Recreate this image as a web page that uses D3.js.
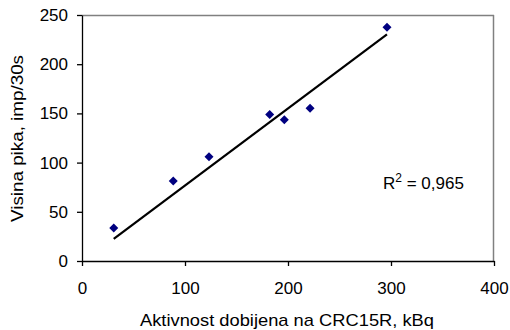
<!DOCTYPE html>
<html>
<head>
<meta charset="utf-8">
<script src="https://cdn.jsdelivr.net/npm/d3@7"></script>
<style>
  body { margin: 0; background: #fff; }
  text { font-family: "Liberation Sans", Arial, sans-serif; fill: #000; }
</style>
</head>
<body>
<svg id="chart" width="510" height="330"></svg>
<script>
// measured points (activity kBq, peak height imp/30s)
var activity = [30.8, 88.6, 123.3, 182.2, 196.4, 221.4, 296.1];
var peakHeight = [33.5, 81.3, 106, 149, 143.6, 155.2, 237.5];
// trend line ends as drawn
var trendX = [30.8, 296.1];
var trendY = [22.4, 230.2];
var xTicks = [0, 100, 200, 300, 400];
var yTicks = [0, 50, 100, 150, 200, 250];
var rSquared = "0,965";

var margin = {top: 15, right: 16, bottom: 69, left: 82};
var width = 510 - margin.left - margin.right;
var height = 330 - margin.top - margin.bottom;

var svg = d3.select("#chart");
var g = svg.append("g")
  .attr("transform", "translate(" + margin.left + "," + margin.top + ")");

var x = d3.scaleLinear().domain([0, 400]).range([0, width]);
var y = d3.scaleLinear().domain([0, 250]).range([height, 0]);

// gray frame top/right
g.append("line").attr("x1", 0).attr("x2", width).attr("y1", 0.5).attr("y2", 0.5)
  .attr("stroke", "#808080").attr("stroke-width", 1.5);
g.append("line").attr("x1", width - 0.5).attr("x2", width - 0.5).attr("y1", 0).attr("y2", height)
  .attr("stroke", "#808080").attr("stroke-width", 1.5);

var xAxis = g.append("g")
  .attr("transform", "translate(0," + height + ")")
  .call(d3.axisBottom(x).tickValues(xTicks).tickSize(5).tickPadding(16).tickSizeOuter(0));
var yAxis = g.append("g")
  .call(d3.axisLeft(y).tickValues(yTicks).tickSize(5).tickPadding(9).tickSizeOuter(0));

[xAxis, yAxis].forEach(function(a) {
  a.selectAll("path, line").attr("stroke", "#000").attr("stroke-width", 1.3);
  a.selectAll("text").style("font-size", "17px").style("font-family", "Liberation Sans, Arial, sans-serif");
});

// trend line
g.append("line")
  .attr("x1", x(trendX[0])).attr("y1", y(trendY[0]))
  .attr("x2", x(trendX[1])).attr("y2", y(trendY[1]))
  .attr("stroke", "#000").attr("stroke-width", 2.2);

// points
var pts = activity.map(function(a, i) { return {x: a, y: peakHeight[i]}; });
g.selectAll(".pt")
  .data(pts).enter()
  .append("path")
  .attr("class", "pt")
  .attr("d", "M0,-4.5L4.5,0L0,4.5L-4.5,0Z")
  .attr("transform", function(d) { return "translate(" + x(d.x) + "," + y(d.y) + ")"; })
  .attr("fill", "#000080");

// R squared
var rt = svg.append("text")
  .attr("x", 383).attr("y", 189)
  .style("font-size", "17px");
rt.append("tspan").text("R");
rt.append("tspan").attr("dy", -7).style("font-size", "12px").text("2");
rt.append("tspan").attr("dy", 7).text(" = " + rSquared);

// axis titles
svg.append("text")
  .attr("x", 140).attr("y", 326)
  .attr("textLength", 294).attr("lengthAdjust", "spacingAndGlyphs")
  .style("font-size", "17px")
  .text("Aktivnost dobijena na CRC15R, kBq");

svg.append("text")
  .attr("transform", "translate(23,222) rotate(-90)")
  .attr("textLength", 167).attr("lengthAdjust", "spacingAndGlyphs")
  .style("font-size", "17px")
  .text("Visina pika, imp/30s");
</script>
</body>
</html>
